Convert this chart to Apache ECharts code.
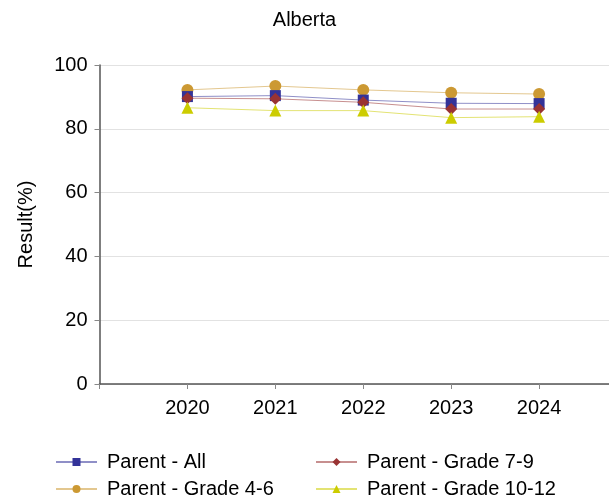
<!DOCTYPE html>
<html>
<head>
<meta charset="utf-8">
<script src="https://cdn.jsdelivr.net/npm/echarts@6/dist/echarts.min.js"></script>
<style>
  html, body { margin: 0; padding: 0; background: #fff; }
  #chart { width: 609px; height: 500px; }
</style>
</head>
<body>
<div id="chart"></div>
<script>
// School years shown along the x axis
const years = ['2020', '2021', '2022', '2023', '2024'];

// Parent survey results (%) for each grade group
const parentAll = [90.1, 90.4, 89.0, 88.0, 87.9];
const parentGrade46 = [92.2, 93.4, 92.2, 91.3, 90.9];
const parentGrade79 = [89.6, 89.4, 88.3, 86.2, 86.2];
const parentGrade1012 = [86.6, 85.7, 85.7, 83.5, 83.8];

// Y axis tick values
const yTicks = [0, 20, 40, 60, 80, 100];

const font = '"Liberation Sans", Arial, sans-serif';

// Years sit at positions 1..n on a numeric x axis
const toPoints = vals => vals.map((v, i) => [i + 1, v]);

const seriesDefs = [
  { name: 'Parent - All', data: parentAll, color: '#333399', symbol: 'rect', size: 11 },
  { name: 'Parent - Grade 7-9', data: parentGrade79, color: '#993333', symbol: 'diamond', size: 12 },
  { name: 'Parent - Grade 4-6', data: parentGrade46, color: '#CC9933', symbol: 'circle', size: 12 },
  { name: 'Parent - Grade 10-12', data: parentGrade1012, color: '#CCCC00', symbol: 'triangle', size: 12 }
];

// Drawing order: circles first, then squares, diamonds and triangles on top
const drawOrder = ['Parent - Grade 4-6', 'Parent - All', 'Parent - Grade 7-9', 'Parent - Grade 10-12'];

const series = drawOrder.map(n => {
  const d = seriesDefs.find(s => s.name === n);
  return {
    name: d.name,
    type: 'line',
    data: toPoints(d.data),
    symbol: d.symbol,
    symbolSize: d.size,
    showAllSymbol: true,
    itemStyle: { color: d.color, opacity: 1 },
    lineStyle: { color: d.color, width: 1, opacity: 0.55 },
    emphasis: { disabled: true },
    animation: false
  };
});

// Legend positions: two columns, two rows
const legendSlots = [
  { name: 'Parent - All', left: 55, top: 452 },
  { name: 'Parent - Grade 7-9', left: 315, top: 452 },
  { name: 'Parent - Grade 4-6', left: 55, top: 479 },
  { name: 'Parent - Grade 10-12', left: 315, top: 479 }
];

const legends = legendSlots.map(s => ({
  data: [s.name],
  left: s.left,
  top: s.top,
  orient: 'horizontal',
  itemWidth: 41,
  itemHeight: 10,
  itemGap: 0,
  padding: 0,
  selectedMode: false,
  textStyle: { fontFamily: font, fontSize: 20, color: '#000', padding: [0, 0, 0, 5] }
}));

const chart = echarts.init(document.getElementById('chart'), null, { renderer: 'canvas' });
chart.setOption({
  backgroundColor: '#fff',
  animation: false,
  title: {
    text: 'Alberta',
    left: 'center',
    top: 5,
    textStyle: { fontFamily: font, fontSize: 20, fontWeight: 'normal', color: '#000' }
  },
  legend: legends,
  grid: { left: 99.5, right: 0, top: 65, bottom: 116, containLabel: false },
  xAxis: {
    type: 'value',
    min: 0,
    max: 5.795,
    interval: 1,
    splitLine: { show: false },
    axisLine: { show: true, lineStyle: { color: '#555', width: 1.5 } },
    axisTick: { show: true, length: 5, lineStyle: { color: '#888' } },
    axisLabel: {
      fontFamily: font, fontSize: 20, color: '#000', margin: 14,
      showMaxLabel: false,
      formatter: v => (Number.isInteger(v) && v >= 1 && v <= years.length) ? years[v - 1] : ''
    }
  },
  yAxis: {
    type: 'value',
    min: yTicks[0],
    max: yTicks[yTicks.length - 1],
    interval: yTicks[1] - yTicks[0],
    name: 'Result(%)',
    nameLocation: 'middle',
    nameGap: 63,
    nameRotate: 90,
    nameTextStyle: { fontFamily: font, fontSize: 20, color: '#000' },
    axisLine: { show: true, lineStyle: { color: '#555', width: 1.5 } },
    axisTick: { show: true, length: 5, lineStyle: { color: '#888' } },
    axisLabel: { fontFamily: font, fontSize: 20, color: '#000', margin: 12 },
    splitLine: { show: true, lineStyle: { color: '#e2e2e2', width: 1 } }
  },
  series: series
});
</script>
</body>
</html>
